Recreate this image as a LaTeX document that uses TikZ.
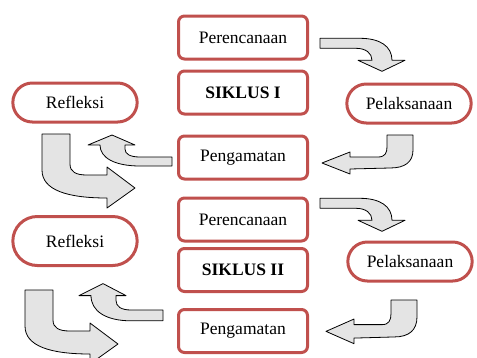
\documentclass[tikz,border=0pt]{standalone}
\usepackage{fontspec}
\setmainfont{Liberation Serif}
\usetikzlibrary{shapes.misc}
\definecolor{boxred}{RGB}{192,80,77}
\definecolor{arrowgray}{RGB}{228,228,228}
\newcommand{\boxline}{3pt}
% block arrows, drawn in local pixel units
\newcommand{\bendsouth}{\draw[blockarrow] (0,0) -- (40,0) .. controls (60,0) and (72,8) .. (72,22) -- (85,22) -- (62,33) -- (38,22) -- (52,22) .. controls (52,15) and (46,10) .. (36,10) -- (0,10) -- cycle;}
\newcommand{\bendwest}{\draw[blockarrow] (0,0) -- (26,0) -- (26,15) .. controls (26,27) and (18,33) .. (3,33) -- (-37,34) -- (-37,39) -- (-65,28) -- (-37,17) -- (-37,22) -- (-9,22) .. controls (-2,22) and (0,18) .. (0,12) -- cycle;}
\newcommand{\bendnorth}{\draw[blockarrow] (0,0) -- (0,9) -- (-32,9) .. controls (-57,9) and (-72,1) .. (-72,-12) -- (-84,-12) -- (-60,-22) -- (-37,-12) -- (-47,-12) -- (-47,-8) .. controls (-47,-3) and (-42,0) .. (-32,0) -- cycle;}
\newcommand{\bendeast}{\draw[blockarrow] (0,0) -- (0,36) .. controls (0,56) and (25,64) .. (65,64) -- (65,74) -- (93,54) -- (65,33) -- (65,41) -- (45,41) .. controls (34,41) and (28,38) .. (28,30) -- (28,0) -- cycle;}

\begin{document}
\begin{tikzpicture}[x=1pt,y=-1pt,
    font=\fontsize{17.5}{20}\selectfont,
    box/.style={draw=boxred, line width=\boxline, rounded corners=6pt, fill=white,
        minimum width=129pt, minimum height=43pt},
    pill/.style={draw=boxred, line width=\boxline, rounded rectangle, fill=white,
        minimum width=131pt, minimum height=39pt},
    blockarrow/.style={draw=black, fill=arrowgray, line width=0.8pt, line join=round}]
    \useasboundingbox (0,0) rectangle (477,357);
    %\draw[help lines] (0,0) grid[step=20] (477,357);

    % siklus I
    \node[box] (per1) at (243,37.5) {Perencanaan};
    \node[box] (sik1) at (243,92.5) {\textbf{SIKLUS I}};
    \node[box] (pen1) at (243,157.5) {Pengamatan};
    \node[pill] (ref1) at (75,102.5) {Refleksi};
    \node[pill] (pel1) at (409,103.5) {Pelaksanaan};

    % siklus II
    \node[box] (per2) at (243,219.5) {Perencanaan};
    \node[box] (sik2) at (243,270) {\textbf{SIKLUS II}};
    \node[box] (pen2) at (243,331) {Pengamatan};
    \node[pill, minimum height=49pt] (ref2) at (75,241) {Refleksi};
    \node[pill] (pel2) at (410,261.5) {Pelaksanaan};

    % arrows
    \begin{scope}[shift={(320,38.3)}]\bendsouth\end{scope}
    \begin{scope}[shift={(320,198.3)}]\bendsouth\end{scope}
    \begin{scope}[shift={(387,135)}]\bendwest\end{scope}
    \begin{scope}[shift={(391,300)},yscale=1.12]\bendwest\end{scope}
    \begin{scope}[shift={(172,157)}]\bendnorth\end{scope}
    \begin{scope}[shift={(163,310)},yscale=1.2]\bendnorth\end{scope}
    \begin{scope}[shift={(42,134)}]\bendeast\end{scope}
    \begin{scope}[shift={(25,290)}]\bendeast\end{scope}
\end{tikzpicture}
\end{document}
